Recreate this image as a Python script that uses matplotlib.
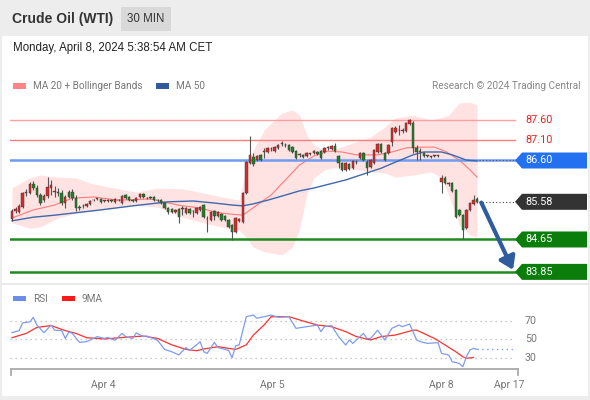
import matplotlib
matplotlib.use("Agg")
import matplotlib.pyplot as plt
from matplotlib.patches import Rectangle, Polygon

# 30 min candles, Apr 3 -> Apr 8 2024
opens = [85.16, 85.35, 85.33, 85.45, 85.80, 85.80, 86.02, 85.92, 85.75, 85.62,
         85.72, 85.92, 85.82, 85.82, 85.80, 85.55, 85.82, 85.82, 85.67, 85.45,
         85.48, 85.48, 85.53, 85.62, 85.65, 85.65, 85.60, 85.60, 85.62, 85.58,
         85.62, 85.55, 85.75, 85.70, 85.62, 85.60, 85.70, 85.77, 85.67, 85.70,
         85.70, 85.62, 85.62, 85.55, 85.43, 85.40, 85.33, 85.40, 85.40, 85.30,
         85.40, 85.35, 85.30, 85.38, 85.50, 85.16, 85.13, 85.35, 85.23, 85.28,
         85.23, 85.13, 85.01, 84.83, 85.11, 85.08, 85.80, 86.54, 86.69, 86.61,
         86.74, 86.81, 86.81, 86.88, 86.83, 86.91, 87.01, 86.98, 86.98, 86.93,
         86.83, 86.74, 86.74, 86.71, 86.76, 86.79, 86.81, 86.83, 86.81, 86.91,
         86.88, 86.96, 86.71, 86.54, 86.37, 86.51, 86.41, 86.56, 86.66, 86.79,
         86.56, 86.44, 86.54, 86.81, 87.01, 86.79, 86.79, 87.06, 87.30, 87.35,
         87.33, 87.33, 87.50, 87.53, 86.91, 86.81, 86.79, 86.71, 86.69, 86.71,
         86.71, 86.07, 86.17, 86.02, 86.04, 85.87, 85.38, 85.25, 84.93, 85.38,
         85.53, 85.65]
closes = [85.35, 85.40, 85.48, 85.80, 85.82, 86.02, 85.92, 85.75, 85.55, 85.72,
          85.95, 85.99, 85.83, 85.80, 85.55, 85.70, 85.70, 85.67, 85.43, 85.43,
          85.47, 85.53, 85.60, 85.63, 85.66, 85.58, 85.61, 85.62, 85.60, 85.65,
          85.63, 85.72, 85.67, 85.62, 85.60, 85.67, 85.77, 85.70, 85.68, 85.67,
          85.62, 85.63, 85.55, 85.43, 85.33, 85.33, 85.38, 85.20, 85.41, 85.43,
          85.30, 85.36, 85.43, 85.45, 85.20, 85.15, 85.33, 85.23, 85.33, 85.13,
          85.13, 84.96, 84.83, 85.18, 85.16, 85.80, 86.56, 86.74, 86.51, 86.71,
          86.61, 86.82, 86.91, 86.89, 86.93, 86.98, 87.02, 86.99, 86.86, 86.81,
          86.66, 86.75, 86.69, 86.79, 86.77, 86.83, 86.76, 86.66, 86.91, 86.92,
          86.96, 86.83, 86.54, 86.37, 86.54, 86.39, 86.59, 86.57, 86.79, 86.61,
          86.41, 86.61, 86.86, 87.01, 86.81, 86.61, 86.98, 87.40, 87.40, 87.36,
          87.34, 87.53, 87.60, 86.91, 86.81, 86.82, 86.71, 86.72, 86.70, 86.72,
          86.72, 86.17, 86.04, 86.03, 85.85, 85.20, 85.25, 84.88, 85.38, 85.55,
          85.62, 85.58]
highs = [85.40, 85.45, 85.53, 85.82, 85.90, 86.07, 86.09, 85.99, 85.80, 85.77,
         86.19, 86.12, 85.97, 85.92, 85.87, 85.75, 85.87, 85.90, 85.75, 85.50,
         85.53, 85.55, 85.62, 85.65, 85.67, 85.67, 85.62, 85.65, 85.65, 85.67,
         85.65, 85.75, 85.77, 85.72, 85.65, 85.70, 85.80, 85.80, 85.70, 85.72,
         85.72, 85.65, 85.65, 85.58, 85.45, 85.43, 85.40, 85.43, 85.48, 85.45,
         85.43, 85.38, 85.45, 85.48, 85.53, 85.23, 85.35, 85.38, 85.35, 85.30,
         85.25, 85.16, 85.03, 85.20, 85.18, 85.82, 86.59, 87.20, 86.79, 86.74,
         86.76, 86.91, 86.93, 86.93, 86.96, 87.01, 87.08, 87.03, 87.01, 86.96,
         86.86, 86.79, 86.76, 86.81, 86.79, 86.86, 86.83, 86.86, 86.93, 86.96,
         86.98, 87.03, 86.74, 86.56, 86.56, 86.54, 86.61, 86.61, 86.81, 86.81,
         86.61, 86.64, 86.88, 87.03, 87.03, 86.81, 87.01, 87.43, 87.45, 87.48,
         87.40, 87.55, 87.62, 87.58, 86.98, 86.91, 86.81, 86.74, 86.71, 86.74,
         86.74, 86.24, 86.22, 86.07, 86.07, 85.90, 85.40, 85.28, 85.40, 85.58,
         85.75, 85.70]
lows = [85.11, 85.30, 85.30, 85.43, 85.72, 85.77, 85.87, 85.70, 85.50, 85.58,
        85.67, 85.75, 85.70, 85.72, 85.50, 85.43, 85.67, 85.62, 85.35, 85.38,
        85.43, 85.45, 85.50, 85.60, 85.62, 85.55, 85.58, 85.58, 85.58, 85.55,
        85.60, 85.53, 85.65, 85.60, 85.58, 85.58, 85.67, 85.67, 85.65, 85.65,
        85.60, 85.58, 85.53, 85.40, 85.28, 85.30, 85.30, 85.06, 85.25, 85.28,
        85.28, 85.20, 85.28, 85.35, 85.18, 84.83, 85.11, 85.13, 85.20, 85.11,
        85.11, 84.93, 84.64, 84.81, 85.08, 85.06, 85.77, 86.51, 86.46, 86.59,
        86.59, 86.66, 86.79, 86.83, 86.81, 86.88, 86.96, 86.93, 86.83, 86.79,
        86.64, 86.69, 86.66, 86.69, 86.74, 86.76, 86.74, 86.64, 86.79, 86.86,
        86.86, 86.81, 86.41, 86.34, 86.34, 86.37, 86.39, 86.51, 86.64, 86.59,
        86.24, 86.41, 86.51, 86.79, 86.79, 86.59, 86.76, 86.96, 87.28, 87.23,
        87.28, 87.30, 87.48, 86.79, 86.61, 86.61, 86.69, 86.69, 86.66, 86.69,
        86.69, 85.80, 86.02, 85.97, 85.82, 85.18, 85.23, 84.65, 84.91, 85.35,
        85.50, 85.55]

# indicators sampled along the candle index
ma20_idx = [0, 6, 12, 17, 23, 30, 39, 44, 48, 53, 57, 61, 65, 69, 73, 77, 81, 85,
            89, 93, 97, 103, 107, 111, 115, 119, 122, 126, 129, 131]
ma20_val = [85.18, 85.38, 85.50, 85.67, 85.70, 85.62, 85.65, 85.55, 85.48, 85.43,
            85.33, 85.28, 85.25, 85.50, 85.75, 86.12, 86.49, 86.71, 86.83, 86.81,
            86.74, 86.74, 86.81, 86.91, 86.93, 86.93, 86.83, 86.61, 86.37, 86.19]
ma50_idx = [0, 6, 12, 17, 25, 34, 44, 51, 57, 62, 65, 68, 72, 76, 81, 85, 94, 104,
            108, 113, 116, 121, 124, 128, 131]
ma50_val = [85.11, 85.20, 85.25, 85.30, 85.38, 85.48, 85.58, 85.60, 85.55, 85.50,
            85.48, 85.53, 85.62, 85.72, 85.85, 85.92, 86.12, 86.41, 86.56, 86.74,
            86.81, 86.81, 86.74, 86.61, 86.59]
bb_idx = [0, 5, 8, 13, 18, 22, 27, 35, 41, 48, 54, 59, 64, 66, 68, 71, 76, 79, 81,
          83, 85, 88, 92, 97, 101, 105, 108, 113, 118, 121, 123, 126, 129, 131]
bb_upper = [85.92, 86.17, 86.24, 86.19, 86.17, 86.04, 85.95, 85.82, 85.92, 85.90,
            85.80, 85.70, 85.62, 86.44, 86.86, 87.35, 87.77, 87.85, 87.72, 87.23,
            86.98, 86.86, 86.91, 87.06, 87.18, 87.43, 87.65, 87.72, 87.60, 87.66,
            87.72, 88.02, 88.04, 87.97]
bb_lower = [85.06, 84.93, 84.96, 85.18, 85.30, 85.35, 85.40, 85.50, 85.45, 85.20,
            85.06, 84.96, 84.88, 84.70, 84.46, 84.35, 84.27, 84.46, 84.90, 85.75,
            86.17, 86.37, 86.44, 86.37, 86.33, 86.29, 86.19, 86.24, 86.32, 86.17,
            85.75, 85.01, 84.76, 84.71]

rsi_idx = [0, 2, 3, 5, 6, 7, 9, 11, 12, 14, 15, 16, 17, 19, 21, 23, 24, 26, 27, 29,
           31, 32, 34, 35, 37, 38, 41, 43, 45, 47, 49, 50, 52, 53, 54, 55, 57, 58,
           61, 62, 63, 64, 66, 68, 69, 71, 73, 75, 78, 80, 83, 86, 87, 88, 90, 92,
           94, 95, 96, 99, 100, 101, 103, 105, 107, 109, 110, 112, 114, 115, 117,
           120, 121, 123, 124, 126, 127, 128, 129, 130, 131]
rsi_val = [57.3, 59.5, 68, 69, 74, 65.6, 57.3, 65.6, 60, 59.5, 51, 58, 56.5, 46.7,
           47.5, 51, 53, 51, 52, 49, 56.5, 53, 51, 57, 53, 53.6, 49, 39, 36.5, 33,
           41, 38, 44, 47.5, 36.5, 34.7, 46.7, 41, 38, 30, 43, 44, 74.7, 76.5, 73,
           74.7, 76.5, 74, 74.7, 62, 63.8, 65.6, 58.4, 63.8, 65, 52.9, 43.8, 49.3,
           45.6, 56.5, 51, 51, 60, 49.3, 62, 65.6, 63.8, 66.7, 49.3, 47.5, 45.6,
           46.4, 34.7, 32.9, 25.6, 23.8, 20.2, 31, 38.4, 40.2, 39]
rsi_ma_idx = [0, 4, 7, 11, 15, 18, 21, 26, 31, 37, 41, 45, 49, 52, 54, 58, 63, 66,
              68, 71, 73, 78, 82, 86, 90, 94, 97, 101, 104, 108, 113, 114, 119, 122,
              125, 127, 128, 130]
rsi_ma_val = [51.8, 56.5, 63, 65, 59.5, 56.5, 51.8, 50.4, 52, 53.6, 51, 44, 39, 37.6,
              39.5, 42, 39, 44, 54.7, 65.6, 74.7, 74.7, 70, 65.6, 63.8, 58.4, 53,
              49.3, 53, 54.7, 60, 60, 51, 43.8, 36.5, 31, 29.3, 30.2]

# key levels (value, line colour, line width, tag colour or None)
levels = [87.60, 87.10, 86.60, 85.58, 84.65, 83.85]
level_line = ["#ff9f9f", "#ff8080", "#6f9bf0", None, "#1f8a1f", "#1f8a1f"]
level_lw = [1.0, 1.0, 1.8, 0, 1.8, 1.8]
level_tag = [None, None, "#2370f0", "#333333", "#0b7d0b", "#0b7d0b"]
target = 83.85

tick_pos = [25.6, 73.2, 120.8, 140.0]
tick_labels = ["Apr 4", "Apr 5", "Apr 8", "Apr 17"]

W, H = 590, 400
PX = 3.55          # pixels per candle
X0 = 12            # pixel of first candle


def fx(px):
    return px / W


def fy(py):
    return 1 - py / H


def idx_at(px):
    return (px - X0) / PX


fig = plt.figure(figsize=(W / 100, H / 100), dpi=100, facecolor="#ededed")
fig.patches.append(Rectangle((fx(2), fy(396)), fx(586), fy(36) - fy(396),
                             transform=fig.transFigure, facecolor="white",
                             edgecolor="none", zorder=-10))
fig.patches.append(Rectangle((fx(121), fy(31)), fx(50), fy(7) - fy(31),
                             transform=fig.transFigure, facecolor="#d9d9d9",
                             edgecolor="none", zorder=-9))
fig.lines.append(plt.Line2D([fx(2), fx(588)], [fy(284), fy(284)],
                            transform=fig.transFigure, color="#e6e6e6", lw=1.2,
                            zorder=-9))

hdr = ["Liberation Sans", "DejaVu Sans"]
fig.text(fx(12), fy(19), "Crude Oil (WTI)", family=hdr, fontsize=10,
         fontweight="bold", color="#333333", va="center")
fig.text(fx(146), fy(19), "30 MIN", family=hdr, fontsize=8.3, color="#333333",
         va="center", ha="center")
fig.text(fx(13), fy(48), "Monday, April 8, 2024 5:38:54 AM CET", family=hdr,
         fontsize=8.3, color="#222222", va="center")

# legends
fnt = ["Roboto", "DejaVu Sans"]
fig.patches.append(Rectangle((fx(13), fy(89)), fx(13), fy(83) - fy(89),
                             transform=fig.transFigure, facecolor="#ff8585", edgecolor="none"))
fig.text(fx(33), fy(86), "MA 20 + Bollinger Bands", family=fnt, fontsize=7.2,
         color="#777777", va="center")
fig.patches.append(Rectangle((fx(156), fy(89)), fx(13), fy(83) - fy(89),
                             transform=fig.transFigure, facecolor="#2f5a9e", edgecolor="none"))
fig.text(fx(176), fy(86), "MA 50", family=fnt, fontsize=7.2, color="#777777", va="center")
fig.text(fx(581), fy(86), "Research \u00a9 2024 Trading Central", family=fnt,
         fontsize=7.2, color="#888888", va="center", ha="right")

fig.patches.append(Rectangle((fx(13), fy(301)), fx(13), fy(296) - fy(301),
                             transform=fig.transFigure, facecolor="#6b8fe8", edgecolor="none"))
fig.text(fx(33), fy(298.5), "RSI", family=fnt, fontsize=7.2, color="#777777", va="center")
fig.patches.append(Rectangle((fx(62), fy(301)), fx(13), fy(296) - fy(301),
                             transform=fig.transFigure, facecolor="#ff1a1a", edgecolor="none"))
fig.text(fx(82), fy(298.5), "9MA", family=fnt, fontsize=7.2, color="#777777", va="center")

# ---- price panel
ax = fig.add_axes([fx(10), fy(282), fx(587) - fx(10), fy(95) - fy(282)])
ax.set_xlim(idx_at(10), idx_at(587))
ax.set_ylim(83.6, 87.6 + 25 / 40.5)
ax.axis("off")
x_end = idx_at(515)

ax.fill_between(bb_idx, bb_lower, bb_upper, color="#ffe2e2", lw=0, zorder=1)
ax.plot(ma20_idx, ma20_val, color="#ff7b7b", lw=0.8, zorder=2)
ax.plot(ma50_idx, ma50_val, color="#3f68ad", lw=1.0, zorder=3)

for lv, c, lw in zip(levels, level_line, level_lw):
    if c is not None:
        ax.plot([idx_at(10), x_end], [lv, lv], color=c, lw=lw, zorder=2.5)

n = len(closes)
xs = list(range(n))
last = n - 1
ax.plot([last + 0.5, x_end], [closes[-1]] * 2, color="#444444", lw=0.8,
        ls=(0, (1, 2)), zorder=3)
ax.plot([last + 0.5, x_end], [86.60, 86.60], color="#555555", lw=0.8,
        ls=(0, (1, 2)), zorder=3)

up_c, dn_c = "#d92b2b", "#21802a"
ax.vlines(xs, lows, highs, color="#555555", lw=0.8, zorder=4)
for i in range(n):
    o, c = opens[i], closes[i]
    col = up_c if c >= o else dn_c
    h = max(abs(c - o), 0.015)
    ax.bar(i, h, bottom=min(o, c), width=0.7, color=col,
           edgecolor="#333333", linewidth=0.3, zorder=5)

# tags on the right
hh = 8 / 40.5
tip, body, right = x_end, idx_at(522), idx_at(587)
for lv, tc in zip(levels, level_tag):
    lab = f"{lv:.2f}"
    if tc is None:
        ax.text(idx_at(525), lv, lab, family=fnt, fontsize=7.8, color="#e8251f",
                va="center", ha="left")
        continue
    ax.add_patch(Polygon([(tip, lv), (body, lv + hh), (right, lv + hh),
                          (right, lv - hh), (body, lv - hh)], closed=True,
                         facecolor=tc, edgecolor="none", zorder=6))
    ax.text(idx_at(525), lv, lab, family=fnt, fontsize=7.8, color="white",
            va="center", ha="left", zorder=7)

ax.annotate("", xy=(idx_at(513), target + 0.05), xytext=(last + 1.2, closes[-1] - 0.02),
            arrowprops=dict(arrowstyle="-|>,head_width=0.5,head_length=0.75",
                            color="#2f5c9c", lw=3, shrinkA=0, shrinkB=0),
            zorder=8)

# ---- RSI panel
ax2 = fig.add_axes([fx(10), fy(369), fx(587) - fx(10), fy(312) - fy(369)])
ax2.set_xlim(idx_at(10), idx_at(587))
ax2.patch.set_visible(False)
ylo = 70 - 48 / 0.917
ax2.set_ylim(ylo, 70 + 9 / 0.917)
for s in ax2.spines.values():
    s.set_visible(False)
ax2.set_yticks([])
ax2.hlines([30, 50, 70], idx_at(10), x_end, colors="#b8b8b8", lw=0.9,
           linestyles=[(0, (1, 3))])
for v in (70, 50, 30):
    ax2.text(idx_at(525), v, str(v), family=fnt, fontsize=7.7, color="#777777",
             va="center", ha="left")

ax2.plot(rsi_ma_idx, rsi_ma_val, color="#ff3030", lw=0.9, zorder=3)
ax2.plot(rsi_idx, rsi_val, color="#7d9cf0", lw=0.9, zorder=4)
ax2.plot([rsi_idx[-1], x_end], [rsi_val[-1]] * 2, color="#7d9cf0", lw=1.0,
         ls=(0, (1, 2.5)), zorder=4)

ax2.plot([idx_at(11), idx_at(518)], [ylo, ylo], color="#aaaaaa", lw=1.3, clip_on=False)
for xe in (idx_at(11), idx_at(518)):
    ax2.plot([xe, xe], [ylo, ylo - 6 / 0.917], color="#aaaaaa", lw=1.3, clip_on=False)
ax2.set_xticks(tick_pos)
ax2.set_xticklabels(tick_labels, family=fnt, fontsize=7.5, color="#777777")
ax2.tick_params(axis="x", length=0, pad=8)

fig.savefig("out.png", dpi=100, facecolor=fig.get_facecolor())
